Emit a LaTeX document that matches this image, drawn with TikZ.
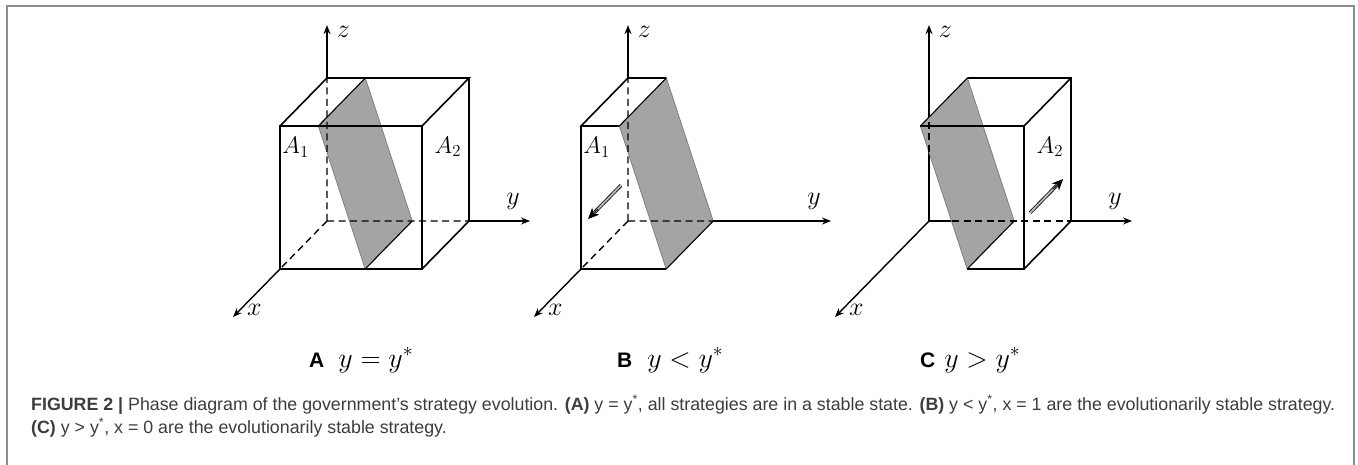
\documentclass[tikz,border=0pt]{standalone}
\usepackage{fix-cm}
\usepackage{fontspec}
\setsansfont{Liberation Sans}
\newfontfamily\capfont{Liberation Sans}
\usepackage{tikz}
\usetikzlibrary{arrows.meta, calc}
\definecolor{PlaneFill}{HTML}{A4A4A4}
\definecolor{PlaneEdge}{HTML}{808080}
\definecolor{FrameGray}{HTML}{8C8C8C}
\definecolor{CapInk}{HTML}{3C3C3C}
\definecolor{FlowFill}{HTML}{BDBDBD}
\newcommand{\bigmath}[1]{{\fontsize{28}{32}\selectfont$#1$}}

\begin{document}
\begin{tikzpicture}[
    x=1pt, y=-1pt,
    >=Stealth,
    panel/.style={shift={#1}, x={(-47pt,-48pt)}, y={(142pt,0pt)}, z={(0pt,143pt)}},
    edge/.style={line width=1.6pt},
    hidden/.style={line width=1.4pt, dash pattern=on 7pt off 4.5pt},
    axis/.style={line width=1.4pt, -{Stealth[length=9pt, width=7pt]}},
    plane/.style={fill=PlaneFill},
    rim/.style={draw=PlaneEdge, line width=0.8pt},
    ridge/.style={line width=1.1pt},
    flow/.style={draw=black, line width=0.8pt, double=FlowFill,
      double distance=1.8pt, shorten >=7pt},
    flowtip/.style={line width=0.8pt, -{Stealth[length=11pt, width=10pt]}},
    axlab/.style={font=\fontsize{26}{30}\selectfont, inner sep=0pt},
    zonelab/.style={font=\fontsize{24}{28}\selectfont, inner sep=0pt},
    sublab/.style={font=\sffamily\fontsize{21}{24}\selectfont,
      anchor=base west, inner sep=0pt},
    capline/.style={font=\capfont\fontsize{17.8}{21}\selectfont, text=CapInk,
      anchor=base west, inner sep=0pt},
  ]
  \useasboundingbox (0,0) rectangle (1358,465);
  \draw[FrameGray, line width=2pt] (7,466) -- (7,6) -- (1354,6) -- (1354,466);

  % panel A: whole cube
  \begin{scope}[panel={(327pt,-221pt)}]
    \fill[plane] (0,.27,1) -- (1,.27,1) -- (1,.6,0) -- (0,.6,0) -- cycle;
    \draw[rim] (0,.27,1) -- (0,.6,0) (1,.27,1) -- (1,.6,0);
    \draw[ridge] (0,.27,1) -- (1,.27,1) (0,.6,0) -- (1,.6,0);
    \draw[hidden] (0,0,0) -- (0,0,1) (0,0,0) -- (0,1,0) (0,0,0) -- (1,0,0);
    \draw[edge] (1,0,0) -- (1,1,0) -- (1,1,1) -- (1,0,1) -- cycle;
    \draw[edge] (1,0,1) -- (0,0,1) -- (0,1,1) -- (1,1,1);
    \draw[edge] (0,1,1) -- (0,1,0) -- (1,1,0);
    \coordinate (zbA) at (0,0,1);  \coordinate (ztA) at (0,0,1.37);
    \coordinate (ybA) at (0,1,0);  \coordinate (ytA) at (0,1.43,0);
    \coordinate (xbA) at (1,0,0);  \coordinate (xtA) at (2,0,0);
    \draw[axis] (zbA) -- (ztA);
    \draw[axis] (ybA) -- (ytA);
    \draw[axis] (xbA) -- (xtA);
    \node[axlab] (zA) at (0,.115,1.32) {$z$};
    \node[axlab] (yA) at (0,1.31,.14) {$y$};
    \node[axlab] (xA) at (1.85,.1,0) {$x$};
    \node[zonelab] (a1A) at (1,.11,.85) {$A_1$};
    \node[zonelab] (a2A) at (.45,1,.67) {$A_2$};
  \end{scope}

  % panel B: part below the plane
  \begin{scope}[panel={(628pt,-221pt)}]
    \fill[plane] (0,.27,1) -- (1,.27,1) -- (1,.6,0) -- (0,.6,0) -- cycle;
    \draw[rim] (0,.27,1) -- (0,.6,0) (1,.27,1) -- (1,.6,0);
    \draw[ridge] (0,.27,1) -- (1,.27,1) (0,.6,0) -- (1,.6,0);
    \draw[hidden] (0,0,0) -- (0,0,1) (0,0,0) -- (0,.6,0) (0,0,0) -- (1,0,0);
    \draw[edge] (0,.27,1) -- (0,0,1) -- (1,0,1) -- (1,0,0) -- (1,.6,0);
    \draw[edge] (1,0,1) -- (1,.27,1);
    \coordinate (zbB) at (0,0,1);  \coordinate (ztB) at (0,0,1.37);
    \coordinate (ybB) at (0,.6,0); \coordinate (ytB) at (0,1.43,0);
    \coordinate (xbB) at (1,0,0);  \coordinate (xtB) at (2,0,0);
    \draw[axis] (zbB) -- (ztB);
    \draw[axis] (ybB) -- (ytB);
    \draw[axis] (xbB) -- (xtB);
    \node[axlab] (zB) at (0,.115,1.32) {$z$};
    \node[axlab] (yB) at (0,1.31,.14) {$y$};
    \node[axlab] (xB) at (1.85,.1,0) {$x$};
    \node[zonelab] (a1B) at (1,.11,.85) {$A_1$};
    \coordinate (fsB) at (.3,.05,.35);
    \coordinate (feB) at (1,.05,.35);
    \draw[flow] (fsB) -- (feB);
    \draw[flowtip] ($(fsB)!.7!(feB)$) -- (feB);
  \end{scope}

  % panel C: part above the plane
  \begin{scope}[panel={(929pt,-221pt)}]
    \coordinate (oC) at (0,0,0);
    \coordinate (ztC) at (0,0,1.37);
    \coordinate (ymC) at (0,.154,0);
    \coordinate (xtC) at (2,0,0);
    \draw[axis] (oC) -- (ztC);
    \draw[axis] (oC) -- (xtC);
    \draw[line width=1.4pt] (oC) -- (ymC);
    \fill[plane] (0,.27,1) -- (1,.27,1) -- (1,.6,0) -- (0,.6,0) -- cycle;
    \draw[rim] (0,.27,1) -- (0,.6,0) (1,.27,1) -- (1,.6,0);
    \draw[ridge] (0,.27,1) -- (1,.27,1) (0,.6,0) -- (1,.6,0);
    \draw[hidden] (0,0,0) -- (0,0,1) (0,0,0) -- (0,1,0);
    \draw[edge] (0,.27,1) -- (0,1,1) -- (0,1,0) -- (1,1,0);
    \draw[edge] (1,.27,1) -- (1,1,1) -- (1,1,0) -- (1,.6,0);
    \draw[edge] (1,1,1) -- (0,1,1);
    \coordinate (ybC) at (0,1,0);  \coordinate (ytC) at (0,1.43,0);
    \draw[axis] (ybC) -- (ytC);
    \node[axlab] (zC) at (0,.115,1.32) {$z$};
    \node[axlab] (yC) at (0,1.31,.14) {$y$};
    \node[axlab] (xC) at (1.85,.1,0) {$x$};
    \node[zonelab] (a2C) at (.45,1,.67) {$A_2$};
    \coordinate (fsC) at (.87,1,.35);
    \coordinate (feC) at (.17,1,.35);
    \draw[flow] (fsC) -- (feC);
    \draw[flowtip] ($(fsC)!.7!(feC)$) -- (feC);
  \end{scope}

  % sub-captions
  \node[sublab] (capA) at (309,367) {\textbf{A}\hspace{14pt}\bigmath{y = y^{*}}};
  \node[sublab] (capB) at (617,367) {\textbf{B}\hspace{15pt}\bigmath{y < y^{*}}};
  \node[sublab] (capC) at (920,367) {\textbf{C}\hspace{9pt}\bigmath{y > y^{*}}};

  % figure caption
  \node[capline] (cap1) at (31,410)
    {\textbf{FIGURE 2 |} Phase diagram of the government’s strategy evolution.
     \textbf{(A)} y = y\textsuperscript{*}, all strategies are in a stable state.
     \textbf{(B)} y < y\textsuperscript{*}, x = 1 are the evolutionarily stable strategy.};
  \node[capline] (cap2) at (31,433)
    {\textbf{(C)} y > y\textsuperscript{*}, x = 0 are the evolutionarily stable strategy.};
\end{tikzpicture}
\end{document}
